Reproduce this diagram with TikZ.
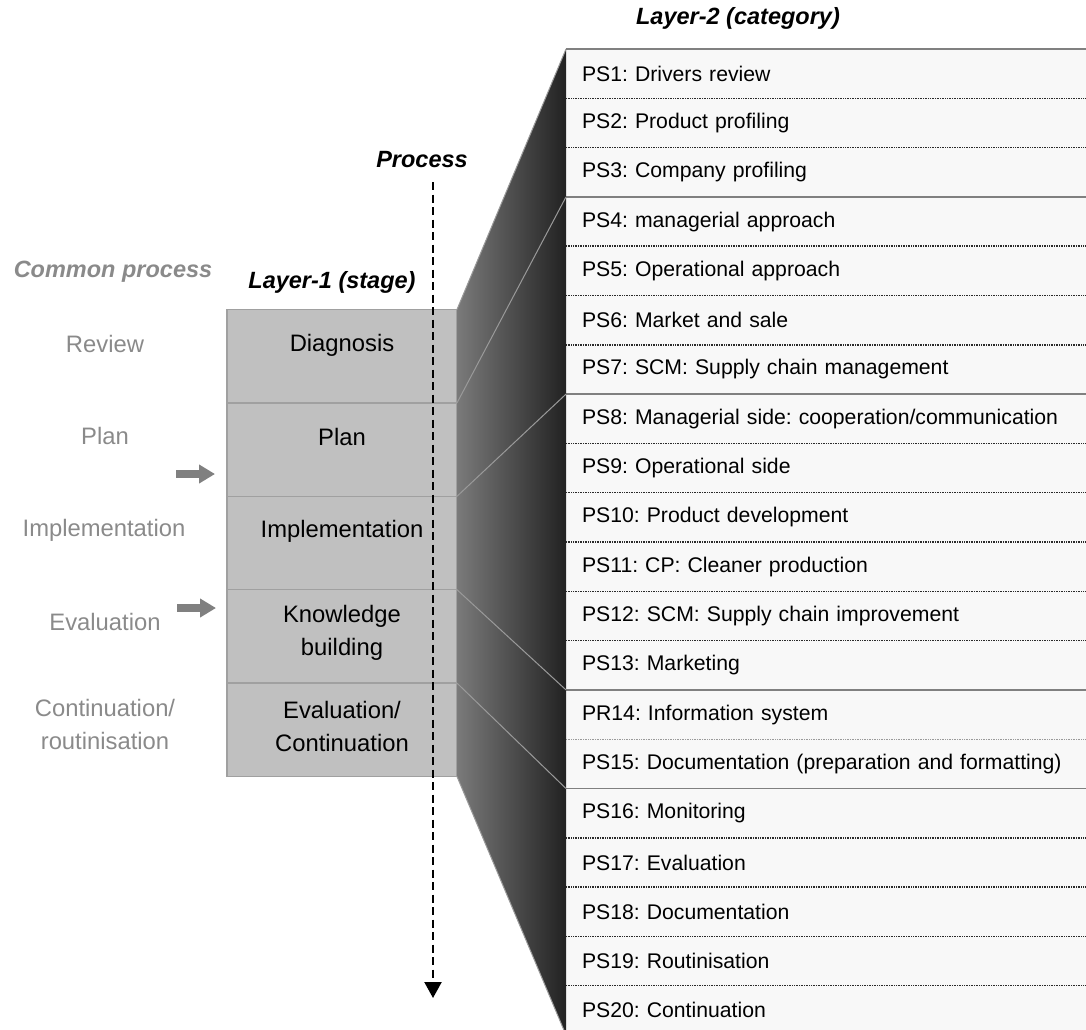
\documentclass[tikz,border=0pt]{standalone}
\usepackage{fontspec}
\setmainfont{Liberation Sans}
\usetikzlibrary{arrows.meta}
\frenchspacing
\definecolor{stagefill}{HTML}{C0C0C0}
\definecolor{stageline}{HTML}{A0A0A0}
\definecolor{rowfill}{HTML}{F8F8F8}
\definecolor{groupline}{HTML}{808080}
\definecolor{dotline}{HTML}{2A2A2A}
\definecolor{funnelline}{HTML}{9A9A9A}
\definecolor{softtext}{HTML}{8A8A8A}
\definecolor{funnelleft}{HTML}{7A7A7A}
\definecolor{funnelright}{HTML}{222222}
\begin{document}
\begin{tikzpicture}[x=1pt,y=-1pt,
  big/.style={font=\fontsize{23.8}{33}\selectfont},
  stagebox/.style={draw=stageline, line width=1.5pt, fill=stagefill,
    minimum width=230pt, minimum height=93.4pt, inner sep=0pt, outer sep=0pt},
  stagetext/.style={big, align=center, text=black, inner sep=0pt},
  sidetext/.style={big, align=center, text=softtext, inner sep=0pt},
  heading/.style={font=\fontsize{23.5}{28}\selectfont\bfseries\itshape, inner sep=0pt},
  row/.style={fill=rowfill, minimum width=520pt, minimum height=49.3pt,
    text width=488pt, inner xsep=16pt, inner ysep=0pt, outer sep=0pt, align=left,
    font=\fontsize{21.2}{25}\selectfont},
  sepdot/.style={dotline, line width=1.5pt, dash pattern=on 1pt off 0.7pt},
  seplight/.style={funnelline, line width=1.3pt, dash pattern=on 1pt off 0.7pt},
  sepgroup/.style={groupline, line width=1.6pt},
  fline/.style={funnelline, line width=1pt},
  sidearrow/.style={groupline, line width=8pt, -{Triangle[length=16pt,width=18pt]}},
]
\useasboundingbox (0,0) rectangle (1086,1029);
\clip (0,0) rectangle (1086,1029);

% Layer-2 category rows
\foreach \i/\t in {1/{PS1: Drivers review},2/{PS2: Product profiling},3/{PS3: Company profiling},
  4/{PS4: managerial approach},5/{PS5: Operational approach},6/{PS6: Market and sale},
  7/{PS7: SCM: Supply chain management},8/{PS8: Managerial side: cooperation/communication},
  9/{PS9: Operational side},10/{PS10: Product development},11/{PS11: CP: Cleaner production},
  12/{PS12: SCM: Supply chain improvement},13/{PS13: Marketing},14/{PR14: Information system},
  15/{PS15: Documentation (preparation and formatting)},16/{PS16: Monitoring},
  17/{PS17: Evaluation},18/{PS18: Documentation},19/{PS19: Routinisation},20/{PS20: Continuation}}
  \node[row] (r\i) at (826, {49+(\i-0.5)*49.3}) {\t};

% separators between rows
\foreach \i in {1,2,4,5,6,8,9,10,11,12,16,17,18,19}
  \draw[sepdot] (r\i.south west) -- (r\i.south east);
\draw[seplight] (r14.south west) -- (r14.south east);
\draw[sepgroup] (r1.north west) -- (r1.north east);
\foreach \i in {3,7,13,15}
  \draw[sepgroup] (r\i.south west) -- (r\i.south east);

% Layer-1 stage boxes
\node[stagebox] (d1) at (342, 356.2) {};
\node[stagebox] (d2) at (342, 449.6) {};
\node[stagebox] (d3) at (342, 543.0) {};
\node[stagebox] (d4) at (342, 636.4) {};
\node[stagebox] (d5) at (342, 729.8) {};

\node[stagetext] (t1) at (342, 345) {Diagnosis};
\node[stagetext] (t2) at (342, 437) {Plan};
\node[stagetext] (t3) at (342, 531) {Implementation};
\node[stagetext] (t4) at (342, 633) {Knowledge\\building};
\node[stagetext] (t5) at (342, 726) {Evaluation/\\Continuation};

% funnel linking stages to categories
\shade[left color=funnelleft, right color=funnelright]
  (d1.north east) -- (r1.north west) -- (r20.south west) -- (d5.south east) -- cycle;
\draw[fline] (d1.north east) -- (r1.north west);
\draw[fline] (d1.south east) -- (r3.south west);
\draw[fline] (d2.south east) -- (r7.south west);
\draw[fline] (d3.south east) -- (r13.south west);
\draw[fline] (d4.south east) -- (r15.south west);
\draw[fline] (d5.south east) -- (r20.south west);

% process axis
\coordinate (p0) at (433, 182);
\coordinate (p1) at (433, 998);
\draw[black, line width=2.2pt, dash pattern=on 8pt off 4.5pt,
  -{Triangle[length=16pt,width=17pt]}] (p0) -- (p1);

% headings
\node[heading] (h1) at (738, 18) {Layer-2 (category)};
\node[heading] (h2) at (422, 160) {Process};
\node[heading] (h3) at (332, 282) {Layer-1 (stage)};
\node[heading, text=softtext] (h4) at (113, 272) {Common process};

% common process labels
\node[sidetext] (c1) at (105, 344) {Review};
\node[sidetext] (c2) at (105, 436) {Plan};
\node[sidetext] (c3) at (104, 530) {Implementation};
\node[sidetext] (c4) at (105, 622) {Evaluation};
\node[sidetext] (c5) at (105, 724) {Continuation/\\routinisation};

% side markers
\coordinate (a1s) at (176, 474);
\coordinate (a1e) at (215, 474);
\coordinate (a2s) at (177, 608);
\coordinate (a2e) at (216, 608);
\draw[sidearrow] (a1s) -- (a1e);
\draw[sidearrow] (a2s) -- (a2e);
\end{tikzpicture}
\end{document}
